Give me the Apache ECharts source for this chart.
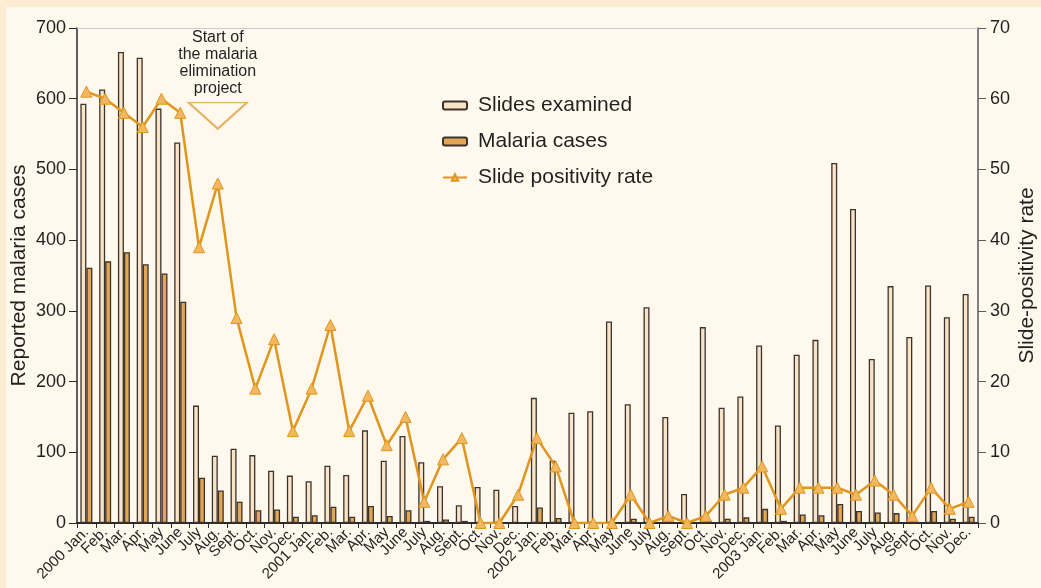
<!DOCTYPE html>
<html>
<head>
<meta charset="utf-8">
<title>Malaria elimination project</title>
<script src="https://cdn.jsdelivr.net/npm/echarts@6/dist/echarts.min.js"></script>
<style>
html,body{margin:0;padding:0;background:#fcecd2;}
#chart{width:1041px;height:588px;}
</style>
</head>
<body>
<div id="chart"></div>
<script>
// months, 2000 Jan. - 2003 Dec.
var monthLabels = ['2000 Jan.','Feb.','Mar.','Apr.','May','June','July','Aug.','Sept.','Oct.','Nov.','Dec.',
	'2001 Jan.','Feb.','Mar.','Apr.','May','June','July','Aug.','Sept.','Oct.','Nov.','Dec.',
	'2002 Jan.','Feb.','Mar.','Apr.','May','June','July','Aug.','Sept.','Oct.','Nov.','Dec.',
	'2003 Jan.','Feb.','Mar.','Apr.','May','June','July','Aug.','Sept.','Oct.','Nov.','Dec.'];

var slidesExamined = [593,613,666,658,586,538,166,95,105,96,74,67,
	59,81,68,131,88,123,86,52,25,51,47,24,
	177,88,156,158,285,168,305,150,41,277,163,179,
	251,138,238,259,509,444,232,335,263,336,291,324];

var malariaCases = [361,370,383,366,353,313,64,46,30,18,19,9,
	11,23,9,24,10,18,3,5,3,0,0,1,
	22,7,0,0,0,6,0,1,0,3,6,8,
	20,3,12,11,27,17,15,14,2,17,6,9];

var positivityRate = [61,60,58,56,60,58,39,48,29,19,26,13,
	19,28,13,18,11,15,3,9,12,0,0,4,
	12,8,0,0,0,4,0,1,0,1,4,5,
	8,2,5,5,5,4,6,4,1,5,2,3];

var leftTicks = [0,100,200,300,400,500,600,700];
var rightTicks = [0,10,20,30,40,50,60,70];

// annotation: start of the project (Aug. 2000)
var projectStartIndex = 7;
var projectStartText = 'Start of\nthe malaria\nelimination\nproject';

var txtColor = '#231f20';
var font = '"Liberation Sans", Arial, sans-serif';

var myChart = echarts.init(document.getElementById('chart'));
var option = {
	backgroundColor: '#fcecd2',
	animation: false,
	graphic: [{
		type: 'rect', z: -10, silent: true,
		shape: {x: 6, y: 7, width: 1041, height: 588},
		style: {fill: '#fff8ed'}
	}],
	legend: {
		orient: 'vertical',
		left: 437,
		top: 90,
		itemWidth: 24,
		itemHeight: 8,
		itemGap: 15,
		textStyle: {fontFamily: font, fontSize: 21, color: txtColor, padding: [0, 0, 0, 6]},
		data: ['Slides examined', 'Malaria cases', 'Slide positivity rate']
	},
	grid: {left: 77, right: 63, top: 28, bottom: 65, outerBoundsMode: 'none'},
	xAxis: {
		type: 'category',
		data: monthLabels,
		axisLine: {lineStyle: {color: '#2b2b2b', width: 2}},
		axisTick: {show: true, length: 5, lineStyle: {color: '#2b2b2b', width: 1}},
		axisLabel: {
			rotate: 45,
			interval: 0,
			margin: 7,
			fontFamily: font,
			fontSize: 15,
			color: txtColor
		}
	},
	yAxis: [{
		type: 'value',
		min: 0, max: 700, interval: 100,
		name: 'Reported malaria cases',
		nameLocation: 'middle',
		nameRotate: 90,
		nameGap: 47,
		nameMoveOverlap: false,
		nameTextStyle: {fontFamily: font, fontSize: 21, color: txtColor},
		axisLine: {show: true, lineStyle: {color: '#2b2b2b', width: 1.5}},
		axisTick: {show: true, length: 8, lineStyle: {color: '#2b2b2b'}},
		axisLabel: {margin: 11, fontFamily: font, fontSize: 18, color: txtColor},
		splitLine: {show: false}
	}, {
		type: 'value',
		min: 0, max: 70, interval: 10,
		name: 'Slide-positivity rate',
		nameLocation: 'middle',
		nameRotate: 90,
		nameGap: 39,
		nameMoveOverlap: false,
		nameTextStyle: {fontFamily: font, fontSize: 21, color: txtColor},
		axisLine: {show: true, lineStyle: {color: '#5a5a5a', width: 1.5}},
		axisTick: {show: true, length: 8, lineStyle: {color: '#5a5a5a'}},
		axisLabel: {margin: 12, fontFamily: font, fontSize: 18, color: txtColor},
		splitLine: {show: false}
	}],
	series: [{
		name: 'Slides examined',
		type: 'bar',
		data: slidesExamined,
		barWidth: 6,
		barGap: '0%',
		itemStyle: {color: '#f9e4c8', borderColor: '#3a332e', borderWidth: 1.3},
		markLine: {
			silent: true,
			symbol: 'none',
			label: {show: false},
			lineStyle: {color: '#c5cad2', width: 1, type: 'solid'},
			data: [{yAxis: leftTicks[leftTicks.length - 1]}]
		}
	}, {
		name: 'Malaria cases',
		type: 'bar',
		data: malariaCases,
		barWidth: 6,
		barGap: '0%',
		itemStyle: {color: '#e2a654', borderColor: '#3a332e', borderWidth: 1.3}
	}, {
		name: 'Slide positivity rate',
		type: 'line',
		yAxisIndex: 1,
		data: positivityRate,
		symbol: 'triangle',
		symbolSize: 11,
		lineStyle: {color: '#e0951c', width: 2.5},
		itemStyle: {color: '#f1b860', borderColor: '#e0951c', borderWidth: 1},
		markPoint: {
			silent: true,
			symbol: 'path://M0,0 L58,0 L29,26 Z',
			symbolSize: [58, 26],
			itemStyle: {color: 'rgba(0,0,0,0)', borderColor: '#e9b163', borderWidth: 2},
			label: {
				show: true,
				position: 'top',
				distance: 5,
				formatter: projectStartText,
				fontFamily: font,
				fontSize: 16,
				lineHeight: 17,
				color: txtColor,
				align: 'center'
			},
			data: [{coord: [projectStartIndex, 57.6]}]
		}
	}]
};
myChart.setOption(option, true);
</script>
</body>
</html>
